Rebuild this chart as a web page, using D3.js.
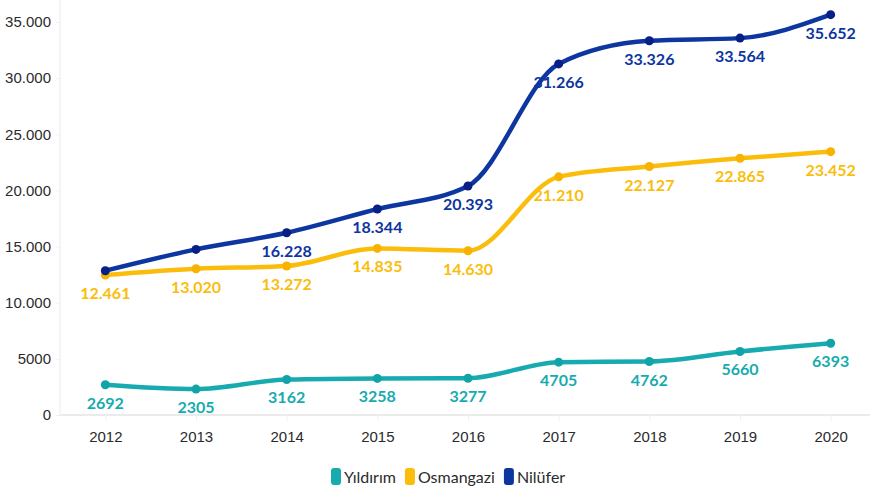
<!DOCTYPE html>
<html>
<head>
<meta charset="utf-8">
<script src="https://cdn.jsdelivr.net/npm/d3@7"></script>
<style>
  body { margin: 0; background: #fff; }
  svg { font-family: Lato, "Noto Sans", sans-serif; }
</style>
</head>
<body>
<div id="chart"></div>
<script>
// Data.
const years = ['2012', '2013', '2014', '2015', '2016', '2017', '2018', '2019', '2020'];
const yildirim = [2692, 2305, 3162, 3258, 3277, 4705, 4762, 5660, 6393];
const osmangazi = [12461, 13020, 13272, 14835, 14630, 21210, 22127, 22865, 23452];
const nilufer = [12850, 14750, 16228, 18344, 20393, 31266, 33326, 33564, 35652];
// Nilüfer has no label on the first two years.
const niluferLabelled = [false, false, true, true, true, true, true, true, true];
const yTicks = [0, 5000, 10000, 15000, 20000, 25000, 30000, 35000];

const series = [
    { name: 'Yıldırım', values: yildirim, colour: '#17abb0', dot: '#12a3a8', sep: false },
    { name: 'Osmangazi', values: osmangazi, colour: '#fbbd0c', dot: '#f7b300', sep: true },
    { name: 'Nilüfer', values: nilufer, colour: '#0d36a0', dot: '#081f86', sep: true, show: niluferLabelled }
];

const width = 870, height = 494;
const margin = { top: 0, right: -6, bottom: 80, left: 60 };

const svg = d3.select('#chart')
    .append('svg')
    .attr('width', width)
    .attr('height', height);

const x = d3.scalePoint()
    .domain(years)
    .range([margin.left, width - margin.right])
    .padding(0.5);

const y = d3.scaleLinear()
    .domain([0, 35000])
    .range([415, 22]);

// Thousands with a dot, but only from 10.000 on.
const fmt = v => v >= 10000 ? d3.format(',')(v).replace(/,/g, '.') : String(v);

// Axis lines.
svg.append('line')
    .attr('x1', margin.left).attr('x2', margin.left)
    .attr('y1', 0).attr('y2', y(0))
    .attr('stroke', '#ebebeb');
svg.append('line')
    .attr('x1', margin.left).attr('x2', width - margin.right)
    .attr('y1', y(0)).attr('y2', y(0))
    .attr('stroke', '#ebebeb').attr('stroke-width', 2);

// Y axis.
const yAxis = svg.append('g')
    .attr('transform', `translate(${margin.left},0)`)
    .call(d3.axisLeft(y).tickValues(yTicks).tickFormat(fmt).tickSize(4).tickPadding(5));
yAxis.select('.domain').remove();
yAxis.selectAll('.tick line').attr('stroke', '#f0f0f0');
yAxis.selectAll('.tick text')
    .attr('fill', '#2b2b2b')
    .style('font-size', '15px');

// X axis.
const xAxis = svg.append('g')
    .attr('transform', `translate(0,${y(0)})`)
    .call(d3.axisBottom(x).tickSize(6).tickPadding(10));
xAxis.select('.domain').remove();
xAxis.selectAll('.tick line').attr('stroke', '#f0f0f0');
xAxis.selectAll('.tick text')
    .attr('fill', '#2b2b2b')
    .style('font-size', '15px');

const line = d3.line()
    .x((_, i) => x(years[i]))
    .y(d => y(d))
    .curve(d3.curveMonotoneX);

series.forEach(s => {
    const g = svg.append('g');

    g.append('path')
        .attr('d', line(s.values))
        .attr('fill', 'none')
        .attr('stroke', s.colour)
        .attr('stroke-width', 4.5)
        .attr('stroke-linecap', 'round');

    g.selectAll('circle')
        .data(s.values)
        .join('circle')
            .attr('cx', (_, i) => x(years[i]))
            .attr('cy', d => y(d))
            .attr('r', 4.5)
            .attr('fill', s.dot);

    g.selectAll('text')
        .data(s.values.map((v, i) => ({ v, i })).filter(d => !s.show || s.show[d.i]))
        .join('text')
            .attr('x', d => x(years[d.i]))
            .attr('y', d => y(d.v) + 24)
            .attr('text-anchor', 'middle')
            .attr('fill', s.colour)
            .style('font-size', '16px')
            .style('font-weight', 'bold')
            .text(d => s.sep ? fmt(d.v) : String(d.v));
});

// Legend.
const legend = svg.append('g').attr('transform', `translate(0,${height - 12})`);
let lx = 331;
series.forEach(s => {
    legend.append('rect')
        .attr('x', lx).attr('y', -14)
        .attr('width', 10).attr('height', 17)
        .attr('rx', 3)
        .attr('fill', s.colour);
    const t = legend.append('text')
        .attr('x', lx + 13).attr('y', 1)
        .attr('fill', '#2b2b2b')
        .style('font-size', '16px')
        .text(s.name);
    lx += 13 + t.node().getComputedTextLength() + 9;
});
</script>
</body>
</html>
